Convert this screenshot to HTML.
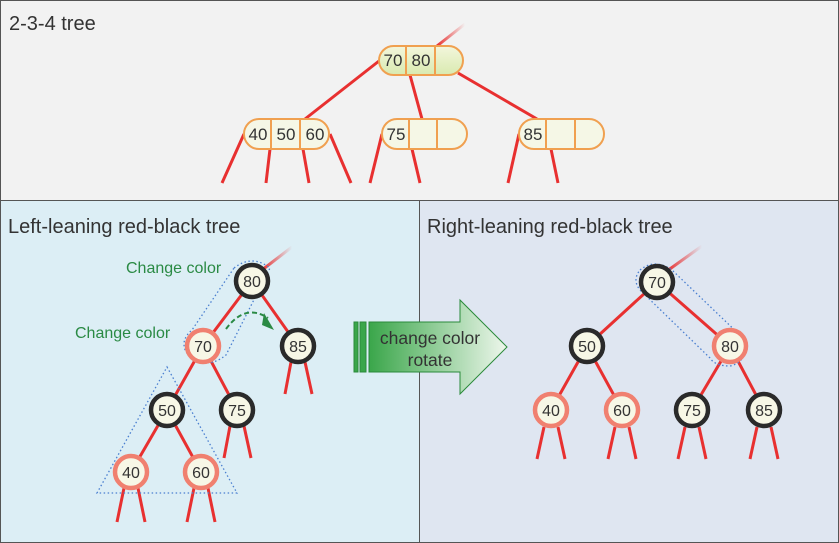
<!DOCTYPE html>
<html><head><meta charset="utf-8"><style>body{margin:0}svg{display:block}text{font-family:"Liberation Sans",sans-serif}</style></head><body>
<svg width="839" height="543" viewBox="0 0 839 543" xmlns="http://www.w3.org/2000/svg">
<defs>
<linearGradient id="g1" x1="0" x2="0" y1="0" y2="1"><stop offset="0" stop-color="#f3f6dc"/><stop offset="1" stop-color="#d9eab0"/></linearGradient>
<linearGradient id="ar" x1="0" x2="1"><stop offset="0" stop-color="#3aa64a"/><stop offset="1" stop-color="#eef7ec"/></linearGradient>
<linearGradient id="st" x1="0" x2="1"><stop offset="0" stop-color="#e83030"/><stop offset="1" stop-color="#e83030" stop-opacity="0"/></linearGradient>
</defs>
<rect x="0.5" y="0.5" width="838" height="200" fill="#f2f2f2" stroke="#555"/>
<rect x="0.5" y="200.5" width="419" height="342" fill="#dceef5" stroke="#555"/>
<rect x="419.5" y="200.5" width="419" height="342" fill="#dfe6f1" stroke="#555"/>
<text x="9" y="30" font-size="20" fill="#333">2-3-4 tree</text>
<text x="8" y="233" font-size="20" fill="#333">Left-leaning red-black tree</text>
<text x="427" y="233" font-size="20" fill="#333">Right-leaning red-black tree</text>
<g stroke="#e83030" stroke-width="3" fill="none">
<path d="M437 46 L465 24" stroke="url(#st)"/>
<path d="M379 61 L305 119 M410 75 L422 119 M458 73 L537 119"/>
<path d="M244 134 L222 183 M270 149 L266 183 M303 149 L309 183 M330 134 L351 183"/>
<path d="M382 134 L370 183 M412 149 L420 183 M519 134 L508 183 M551 149 L558 183"/>
</g>
<g stroke="#f0a050" stroke-width="2">
<rect x="379" y="46" width="84" height="29" rx="14.5" fill="url(#g1)"/>
<path d="M406 46 V75 M435 46 V75"/>
<rect x="244" y="119" width="85" height="30" rx="15" fill="#f5f7e6"/>
<path d="M271 119 V149 M300 119 V149"/>
<rect x="382" y="119" width="85" height="30" rx="15" fill="#f5f7e6"/>
<path d="M409 119 V149 M437 119 V149"/>
<rect x="519" y="119" width="85" height="30" rx="15" fill="#f5f7e6"/>
<path d="M546 119 V149 M575 119 V149"/>
</g>
<g font-size="17" fill="#333" text-anchor="middle">
<text x="393" y="66">70</text><text x="421" y="66">80</text>
<text x="258" y="140">40</text><text x="286" y="140">50</text><text x="315" y="140">60</text>
<text x="396" y="140">75</text><text x="533" y="140">85</text>
</g>
<g stroke="#e83030" stroke-width="3" fill="none">
<path d="M262 270 L292 247" stroke="url(#st)"/>
<path d="M252 281 L203 346 M252 281 L298 346 M203 346 L167 410 M203 346 L237 410 M167 410 L131 472 M167 410 L201 472"/>
<path d="M291 362 L285 394 M305 362 L312 394 M230 426 L224 458 M244 426 L251 458"/>
<path d="M124 488 L117 522 M138 488 L145 522 M194 488 L187 522 M208 488 L215 522"/>
<path d="M667 271 L702 246" stroke="url(#st)"/>
<path d="M657 282 L587 346 M657 282 L730 346 M587 346 L551 410 M587 346 L622 410 M730 346 L692 410 M730 346 L764 410"/>
<path d="M544 427 L537 459 M558 427 L565 459 M615 427 L608 459 M629 427 L636 459 M685 427 L678 459 M699 427 L706 459 M757 427 L750 459 M771 427 L778 459"/>
</g>
<g stroke="#4a7fd0" stroke-width="1.3" stroke-dasharray="1.5 2.5" fill="none">
<path d="M234 268 Q252 254 270 268 L226 355 Q205 372 186 352 Q180 340 192 330 Z"/>
<path d="M167 367 L237 493 L97 493 Z"/>
<path d="M640 270 Q655 258 672 270 L745 340 Q748 362 730 366 Q715 366 710 358 L640 290 Q632 280 640 270 Z"/>
</g>
<path d="M226 329 Q245 303 268 318" stroke="#2a8a44" stroke-width="2" stroke-dasharray="5 3" fill="none"/>
<path d="M264 313 L274 330 L262 325 Z" fill="#2a8a44"/>
<text x="126" y="273" font-size="16" fill="#2a8a44">Change color</text>
<text x="75" y="338" font-size="16" fill="#2a8a44">Change color</text>
<g font-size="16" fill="#333" text-anchor="middle">
<g fill="#f7f7e6" stroke="#2a2a2a" stroke-width="4.5">
<circle cx="252" cy="281" r="16"/><circle cx="298" cy="346" r="16"/><circle cx="167" cy="410" r="16"/><circle cx="237" cy="410" r="16"/>
<circle cx="657" cy="282" r="16"/><circle cx="587" cy="346" r="16"/><circle cx="692" cy="410" r="16"/><circle cx="764" cy="410" r="16"/>
</g>
<g fill="#f7f7e6" stroke="#f08070" stroke-width="4.5">
<circle cx="203" cy="346" r="16"/><circle cx="131" cy="472" r="16"/><circle cx="201" cy="472" r="16"/>
<circle cx="730" cy="346" r="16"/><circle cx="551" cy="410" r="16"/><circle cx="622" cy="410" r="16"/>
</g>
<text x="252" y="287">80</text><text x="298" y="352">85</text><text x="167" y="416">50</text><text x="237" y="416">75</text>
<text x="203" y="352">70</text><text x="131" y="478">40</text><text x="201" y="478">60</text>
<text x="657" y="288">70</text><text x="587" y="352">50</text><text x="692" y="416">75</text><text x="764" y="416">85</text>
<text x="730" y="352">80</text><text x="551" y="416">40</text><text x="622" y="416">60</text>
</g>
<rect x="354" y="322" width="4" height="50" fill="#3aa64a" stroke="#2a8a3a"/>
<rect x="360" y="322" width="6" height="50" fill="#3aa64a" stroke="#2a8a3a"/>
<path d="M369 322 L460 322 L460 300 L507 347 L460 394 L460 372 L369 372 Z" fill="url(#ar)" stroke="#2a8a3a" stroke-width="1"/>
<text x="430" y="344" font-size="17.5" fill="#333" text-anchor="middle">change color</text>
<text x="430" y="366" font-size="17.5" fill="#333" text-anchor="middle">rotate</text>
</svg>
</body></html>
